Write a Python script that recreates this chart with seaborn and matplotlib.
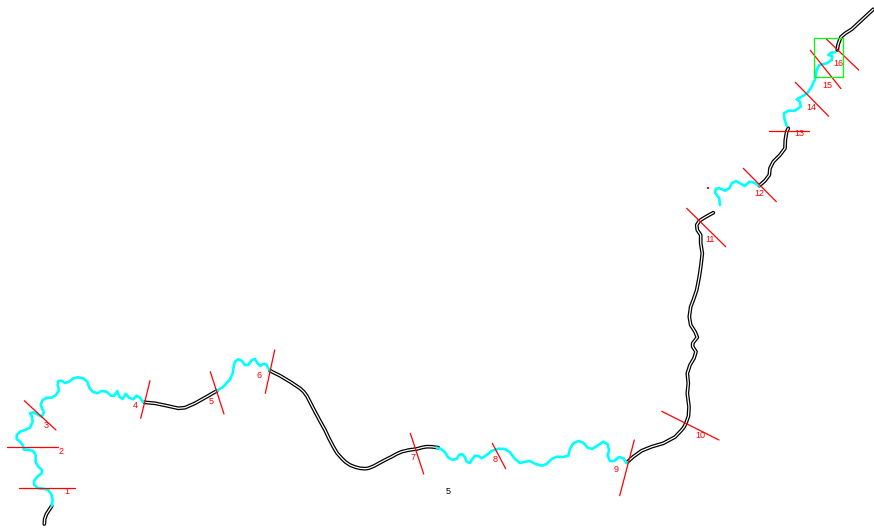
import matplotlib
matplotlib.use('Agg')
from matplotlib import pyplot as plt
import seaborn as sns

# river centre line in image pixels
black_x = [
    [44.3, 44.7, 46.5, 51.7],
    [144.3, 155, 166.7, 178.3, 185, 195, 206.7, 216.7],
    [270, 280, 290, 300, 304, 307.3, 311, 315, 320, 325, 329, 333.3, 337, 341.7, 345.5, 350, 355, 360, 365, 368.3, 374, 380, 386, 391.7, 396.5, 401.7, 409, 416.7, 422, 426.7, 432, 438.3],
    [627.7, 633.3, 641.7, 651.7, 663.3, 675, 681.7, 684, 686, 688.5, 689, 687.3, 688.3, 687.3, 690, 694, 696, 692.7, 692.7, 697.3, 695, 690.7, 689.3, 690.7, 693.3, 696.7, 699.3, 701, 702.3, 700.7, 700.7, 697.3, 696.7, 699.3, 705, 713.3],
    [759.3, 765, 769.3, 770, 773.3, 780, 785, 785.3, 786.7, 788.3],
    [837.3, 838, 839.3, 841, 845, 851.7, 873.3],
]
black_y = [
    [524, 519, 514, 506],
    [402.3, 403.3, 405.7, 408.3, 407.7, 403.3, 396.7, 391],
    [370.7, 375.7, 381.7, 388.3, 392, 396.7, 404, 411.7, 421, 430, 438.5, 446.7, 453, 458.3, 462, 465, 467, 468.3, 468.7, 468.3, 466, 462.7, 459.5, 456.7, 454, 451.7, 450, 449, 447.5, 446.7, 446.8, 447.7],
    [461.7, 456.7, 450.7, 446.7, 443.3, 437, 430, 427, 423, 416, 406.7, 393.3, 383.3, 373.3, 365, 358.3, 351.7, 346.7, 343.3, 337.3, 331.7, 325, 316.7, 306.7, 300, 290, 276.7, 265, 253.3, 243.3, 235, 230, 225, 221, 217.3, 212.7],
    [185.7, 180.7, 175, 168.3, 161.7, 155, 148.3, 140, 131.7, 128.3],
    [50, 45, 41, 37, 33.5, 29.3, 9.3],
]
cyan_x = [
    [51.7, 52.7, 51.3, 48.3, 43.3, 38.3, 34.3, 34, 37.3, 41.7, 42, 38.3, 35.7, 35.7, 33.3, 28.3, 24, 22.7, 20, 16.7, 16.7, 20, 25, 30, 32.7, 31.7, 30, 33.3, 37.3, 41.7, 44, 42, 40.7, 42.7, 46.7, 51.7, 56, 59, 57.7, 58.3, 61.7, 65, 69.3, 73.3, 78.3, 83.3, 87.3, 89.3, 92.7, 97.3, 101.7, 106.7, 111, 114.3, 117.3, 119.3, 122.7, 125.7, 129, 133.3, 136.7, 140, 143.3],
    [216.7, 223.3, 230, 232.7, 233.7, 235, 238.3, 241.7, 245, 248.3, 251.7, 255, 257.3, 260, 263.3, 266, 268.3, 270],
    [436.7, 441, 445, 448.3, 452.3, 456.7, 459, 462.3, 465, 466.7, 470, 472.3, 475, 478.3, 481.7, 486.7, 491.7, 498.3, 505, 510, 515, 520, 525.7, 530, 535, 541.7, 546.7, 551.7, 556.7, 563.3, 568.3, 570, 573.3, 578.3, 583.3, 587.7, 592.3, 598.3, 603.3, 607.7, 609, 607.7, 610, 614.3, 619, 623.3, 626.7],
    [720, 719.3, 715, 716, 720, 725, 729.3, 731.7, 736, 740, 745, 749.3, 753.3, 759.3],
    [786.7, 784.3, 784, 788.3, 795, 800.7, 800, 796.7, 801.7, 807.3, 811.7, 815, 816.7, 819.3, 826.7, 831.7, 832.3, 828.3, 830.7, 835],
]
cyan_y = [
    [506, 500, 494.3, 490, 488.7, 488.3, 485, 481, 476.7, 473.3, 470, 466.7, 462.3, 455, 451, 449.7, 449.7, 445, 441.7, 439, 435, 431.7, 430, 427.7, 421.7, 415.7, 413.3, 412.3, 414.3, 416.7, 412.3, 408.3, 404.3, 400, 397.7, 397.7, 395, 390, 385, 381, 380.7, 383, 381.7, 378.3, 377.3, 378.3, 381.7, 387.7, 391.7, 393.3, 391, 391.7, 395.7, 395.7, 391, 396.7, 399, 393.7, 397.7, 399.3, 395.7, 397.7, 402.3],
    [391, 386.7, 379.3, 373.3, 366.7, 361.7, 359.3, 360.7, 365, 365, 360, 359, 362.7, 366, 364, 364, 368.3, 370.7],
    [447.7, 449, 452.3, 457.7, 459.7, 459, 455, 454, 457.3, 461.7, 463, 459, 455.7, 456, 458.3, 455, 451, 448.7, 449, 452.3, 459, 463, 461.7, 461, 463.7, 465.7, 464, 459, 456.7, 457, 455.7, 449, 443.3, 441, 442.7, 447.7, 449, 445, 441.7, 444.3, 450, 455.7, 461, 461, 457, 458.3, 463.3],
    [205, 198.3, 192.7, 188.7, 188.3, 190.7, 188.3, 183.3, 181, 183.3, 186, 181.7, 182.3, 185.7],
    [126, 118.3, 113.3, 110.7, 110.7, 106.7, 101.7, 99.3, 96.7, 93.3, 86.7, 79.3, 70, 65, 63.3, 60, 56, 55, 52.7, 52.3],
]

# cross sections 1..16: end points and label position
section_labels = ['1', '2', '3', '4', '5', '6', '7', '8', '9', '10', '11', '12', '13', '14', '15', '16']
sec_x0 = [18.7, 6.7, 24.3, 150, 210.3, 274.7, 410.3, 492.3, 634.3, 661.7, 686.7, 743.3, 769.3, 795.3, 810.3, 826.3]
sec_y0 = [488.3, 447, 400.7, 380.7, 371.7, 350, 433.3, 443.3, 440, 411.3, 208.3, 168.3, 131, 82.3, 50.3, 39]
sec_x1 = [74.7, 58, 56, 140.7, 224, 265.3, 423.7, 505.7, 619.7, 719, 725.7, 776.3, 809.3, 828.7, 841, 858.7]
sec_y1 = [488.3, 447, 430, 418.3, 414, 393.3, 474, 468.7, 495.7, 440, 246.7, 201.7, 131, 116.3, 88.7, 70]
label_x = [67, 61, 46, 135, 211, 259, 413, 494.7, 616, 700, 709.7, 759.7, 799, 811.7, 827.7, 838.7]
label_y = [491, 451, 426, 405, 401, 376, 458, 459, 470, 435, 240, 193, 133, 108, 85, 63]

box_x = [814.3, 843.3, 843.3, 814.3, 814.3]
box_y = [38.3, 38.3, 76.7, 76.7, 38.3]
dot_x = [707.7]
dot_y = [188]

sns.set_theme(style='white')
plt.rcParams['font.family'] = ['Liberation Sans', 'DejaVu Sans']

fig = plt.figure(figsize=(8.74, 5.29), dpi=100)
ax = fig.add_axes([0, 0, 1, 1])


def draw(x, y, color, lw):
    sns.lineplot(x=x, y=y, color=color, linewidth=lw, sort=False, estimator=None,
                 legend=False, ax=ax, solid_joinstyle='round', solid_capstyle='round')


# double line = thick black with a thin white core
for x, y in zip(black_x, black_y):
    draw(x, y, 'black', 2.7)
for x, y in zip(black_x, black_y):
    draw(x, y, 'white', 0.9)
for x, y in zip(cyan_x, cyan_y):
    draw(x, y, '#00ffff', 1.9)

for i in range(0, len(section_labels)):
    draw([sec_x0[i], sec_x1[i]], [sec_y0[i], sec_y1[i]], '#ff0000', 0.9)
    ax.text(label_x[i], label_y[i], section_labels[i], color='#ff0000', fontsize=6.5,
            ha='center', va='center')

draw(box_x, box_y, '#00ff00', 0.9)
sns.scatterplot(x=dot_x, y=dot_y, color='#ff0000', s=3, linewidth=0, marker='s', ax=ax, legend=False)
ax.text(448.5, 491, '5', color='black', fontsize=6.5, ha='center', va='center')

ax.set(xlim=(0, 874), ylim=(529, 0))
ax.axis('off')
fig.savefig('out.png', dpi=100, facecolor='white')
